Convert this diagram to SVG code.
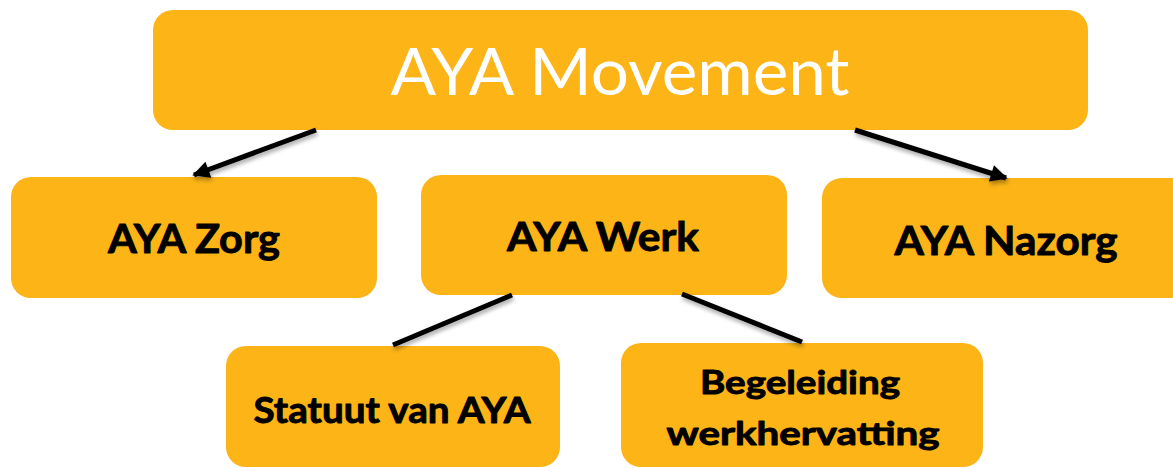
<svg xmlns="http://www.w3.org/2000/svg" width="1173" height="468" viewBox="0 0 1173 468">
  <style>
    .box { fill: #FCB416; }
    .title { font-family: Lato, "Open Sans", "Liberation Sans", sans-serif; font-size: 66px; fill: #FFFFFF; text-anchor: middle; }
    .lbl { font-family: Lato, "Open Sans", "Liberation Sans", sans-serif; font-weight: bold; fill: #000000; stroke: #000000; stroke-width: 0.9; stroke-linejoin: round; text-anchor: middle; }
    .conn { stroke: #000000; stroke-width: 5; fill: none; filter: url(#sh); }
  </style>
  <defs>
    <marker id="arr" viewBox="0 0 10 10" refX="9" refY="5" markerWidth="3.8" markerHeight="3.4" orient="auto" markerUnits="strokeWidth">
      <path d="M0,0 L10,5 L0,10 Z" fill="#000000"/>
    </marker>
    <filter id="sh" x="-20%" y="-50%" width="140%" height="200%">
      <feGaussianBlur in="SourceAlpha" stdDeviation="2"/>
      <feOffset dx="1" dy="3" result="b"/>
      <feComponentTransfer><feFuncA type="linear" slope="0.35"/></feComponentTransfer>
      <feMerge><feMergeNode/><feMergeNode in="SourceGraphic"/></feMerge>
    </filter>
  </defs>

  <g id="node-movement">
    <rect class="box" x="153" y="10" width="935" height="120" rx="20"/>
    <text class="title" x="620" y="95" textLength="459" lengthAdjust="spacingAndGlyphs">AYA Movement</text>
  </g>
  <g id="node-zorg">
    <rect class="box" x="11" y="177" width="366" height="121" rx="20"/>
    <text class="lbl" x="194" y="253" font-size="41" textLength="172" lengthAdjust="spacingAndGlyphs">AYA Zorg</text>
  </g>
  <g id="node-werk">
    <rect class="box" x="421" y="175" width="366" height="120" rx="20"/>
    <text class="lbl" x="603" y="251" font-size="40" textLength="192" lengthAdjust="spacingAndGlyphs">AYA Werk</text>
  </g>
  <g id="node-nazorg">
    <rect class="box" x="822" y="178" width="371" height="120" rx="20"/>
    <text class="lbl" x="1006" y="255" font-size="40" textLength="223" lengthAdjust="spacingAndGlyphs">AYA Nazorg</text>
  </g>
  <g id="node-statuut">
    <rect class="box" x="226" y="346" width="334" height="121" rx="20"/>
    <text class="lbl" x="392" y="423" font-size="36" textLength="277" lengthAdjust="spacingAndGlyphs">Statuut van AYA</text>
  </g>
  <g id="node-begeleiding">
    <rect class="box" x="621" y="343" width="362" height="124" rx="20"/>
    <text class="lbl" x="800" y="394" font-size="32" textLength="200" lengthAdjust="spacingAndGlyphs">Begeleiding</text>
    <text class="lbl" x="803" y="445" font-size="32" textLength="273" lengthAdjust="spacingAndGlyphs">werkhervatting</text>
  </g>

  <g id="connectors">
    <line class="conn" x1="316" y1="130" x2="194" y2="175" marker-end="url(#arr)"/>
    <line class="conn" x1="603" y1="130" x2="603" y2="175" marker-end="url(#arr)"/>
    <line class="conn" x1="855" y1="130" x2="1006" y2="178" marker-end="url(#arr)"/>
    <line class="conn" x1="512" y1="295" x2="393" y2="345"/>
    <line class="conn" x1="682" y1="294" x2="802" y2="342"/>
  </g>
</svg>
